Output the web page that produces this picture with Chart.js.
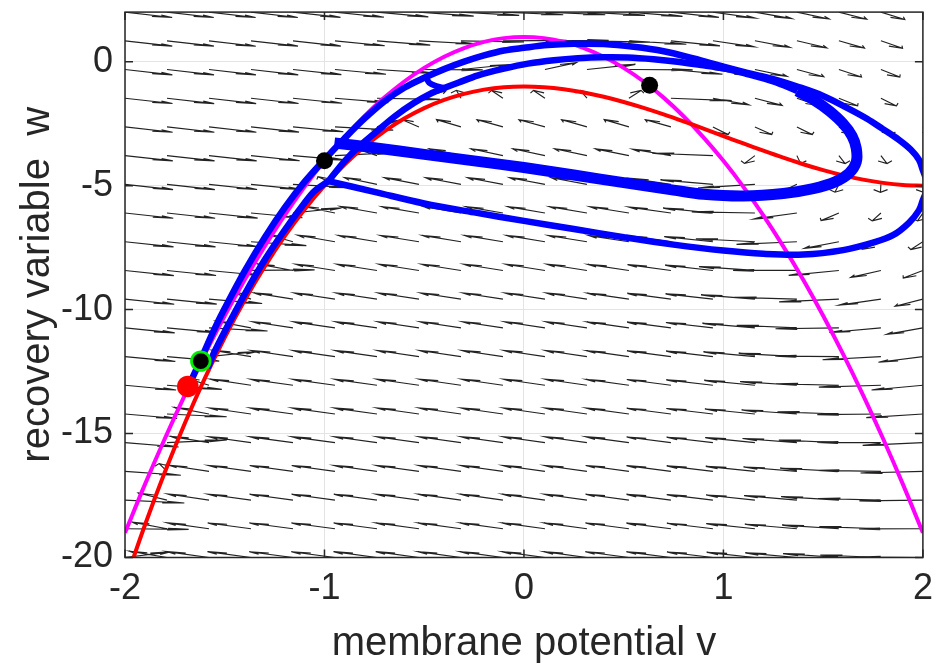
<!DOCTYPE html>
<html><head><meta charset="utf-8">
<script src="https://cdn.jsdelivr.net/npm/chart.js@4.4.1/dist/chart.umd.min.js"></script>
<style>html,body{margin:0;padding:0;background:#fff;}canvas{display:block;}</style>
</head><body>
<canvas id="c" width="935" height="668" style="width:935px;height:668px"></canvas>
<script>
// ---------- axes ----------
const xTicks = [-2, -1, 0, 1, 2];
const yTicks = [-20, -15, -10, -5, 0];
const xLabel = 'membrane potential v';
const yLabel = 'recovery variable  w';

// ---------- nullclines ----------
const curveV = [-2.0,-1.9,-1.8,-1.7,-1.6,-1.5,-1.4,-1.3,-1.2,-1.1,-1.0,-0.9,-0.8,-0.7,-0.6,-0.5,-0.4,-0.3,-0.2,-0.1,0.0,
  0.1,0.2,0.3,0.4,0.5,0.6,0.7,0.8,0.9,1.0,1.1,1.2,1.3,1.4,1.5,1.6,1.7,1.8,1.9,2.0];
const redNullW = [-21,-18.689,-16.552,-14.583,-12.776,-11.125,-9.624,-8.267,-7.048,-5.961,
  -5,-4.159,-3.432,-2.813,-2.296,-1.875,-1.544,-1.297,-1.128,-1.031,-1,
  -1.029,-1.112,-1.243,-1.416,-1.625,-1.864,-2.127,-2.408,-2.701,-3,
  -3.299,-3.592,-3.873,-4.136,-4.375,-4.584,-4.757,-4.888,-4.971,-5];
const magNullW = [-19,-17.05,-15.2,-13.45,-11.8,-10.25,-8.8,-7.45,-6.2,-5.05,
  -4,-3.05,-2.2,-1.45,-0.8,-0.25,0.2,0.55,0.8,0.95,1,
  0.95,0.8,0.55,0.2,-0.25,-0.8,-1.45,-2.2,-3.05,-4,
  -5.05,-6.2,-7.45,-8.8,-10.25,-11.8,-13.45,-15.2,-17.05,-19];

// ---------- direction field grid ----------
const gridV = [-2,-1.7895,-1.5789,-1.3684,-1.1579,-0.9474,-0.7368,-0.5263,-0.3158,-0.1053,
  0.1053,0.3158,0.5263,0.7368,0.9474,1.1579,1.3684,1.5789,1.7895,2];
const gridW = [-20,-18.8421,-17.6842,-16.5263,-15.3684,-14.2105,-13.0526,-11.8947,-10.7368,-9.5789,
  -8.4211,-7.2632,-6.1053,-4.9474,-3.7895,-2.6316,-1.4737,-0.3158,0.8421,2];
const redAtGrid = [-21,-16.338,-12.416,-9.180,-6.575,-4.543,-3.029,-1.977,-1.331,-1.034,
  -1.032,-1.268,-1.685,-2.229,-2.842,-3.470,-4.055,-4.543,-4.876,-5];
const magAtGrid = [-19,-15.012,-11.465,-8.363,-5.704,-3.488,-1.715,-0.385,0.501,0.945,
  0.945,0.501,-0.385,-1.715,-3.488,-5.704,-8.363,-11.465,-15.012,-19];

// ---------- trajectory pieces ----------
const outerV = [-1.665,-1.62,-1.6,-1.55,-1.5,-1.4,-1.3,-1.2,-1.1,-1.0,-0.9,-0.8,-0.7,-0.6,-0.5,-0.4,-0.3,-0.2,-0.1,0.0,
  0.12,0.25,0.4,0.55,0.7,0.85,1.0,1.12,1.25,1.37,1.5,1.62,1.72,1.8,1.88,1.94,1.98,2.0,2.02,2.03,2.02,2.0,
  1.98,1.93,1.85,1.75,1.6,1.4,1.2,1.0,0.75,0.5,0.25,0.0,-0.25,-0.5,-0.75,-0.98];
const outerW = [-12.8,-12.02,-11.65,-10.76,-9.95,-8.45,-7.1,-5.9,-4.85,-3.95,-3.1,-2.3,-1.6,-1.05,-0.65,-0.3,0.0,0.25,0.45,0.56,
  0.67,0.72,0.71,0.6,0.42,0.13,-0.2,-0.45,-0.7,-1.0,-1.38,-1.86,-2.3,-2.72,-3.15,-3.55,-3.95,-4.38,-4.8,-5.0,-5.2,-5.58,
  -6.0,-6.5,-7.0,-7.3,-7.6,-7.78,-7.75,-7.62,-7.38,-7.08,-6.75,-6.42,-6.08,-5.72,-5.25,-4.82];
const innerLowV = [-0.98,-1.05,-1.1,-1.2,-1.3,-1.4,-1.5,-1.55,-1.585];
const innerLowW = [-4.82,-5.22,-5.7,-6.8,-8.0,-9.38,-10.88,-11.68,-12.35];
const innerUpV = [-0.98,-0.9,-0.83,-0.75,-0.65,-0.55,-0.47,-0.4,-0.33,-0.23,-0.1,0.02,0.15,0.27,0.4,0.52,0.65,0.77,0.9,1.02,1.12,1.25,1.37];
const innerUpW = [-4.82,-4.02,-3.45,-2.9,-2.22,-1.66,-1.3,-1.06,-0.85,-0.55,-0.28,-0.08,0.06,0.14,0.18,0.17,0.1,0.0,-0.15,-0.3,-0.5,-0.8,-1.18];
const loopV = [1.37,1.46,1.53,1.6,1.645,1.666,1.666,1.63,1.56,1.45,1.3,1.1,0.9,0.75,0.5,0.25,0.0,-0.25,-0.5,-0.75,-0.95];
const loopW = [-1.18,-1.58,-1.98,-2.5,-3.0,-3.5,-4.05,-4.5,-4.85,-5.12,-5.32,-5.42,-5.35,-5.18,-4.88,-4.57,-4.27,-4.0,-3.74,-3.47,-3.28];
const hookV = [-0.49,-0.475,-0.44,-0.4];
const hookW = [-0.62,-0.85,-0.98,-1.06];

// ---------- marked points ----------
const blackDotV = [-1.0, 0.63];
const blackDotW = [-4.0, -0.95];
const startDotV = [-1.62];
const startDotW = [-12.08];
const redDotV = [-1.685];
const redDotW = [-13.1];

const pts = (vs, ws) => vs.map((v, i) => ({x: v, y: ws[i]}));

const BLUE = '#0000ff';
const lineDs = (vs, ws, color, width, order) => ({
  type: 'scatter', showLine: true, data: pts(vs, ws), borderColor: color, backgroundColor: color,
  borderWidth: width, pointRadius: 0, tension: 0.35, clip: 0, order: order,
  borderJoinStyle: 'round', borderCapStyle: 'butt'
});
const dotDs = (vs, ws, fill, stroke, r, bw, order) => ({
  type: 'scatter', showLine: false, data: pts(vs, ws), pointRadius: r, pointBackgroundColor: fill,
  pointBorderColor: stroke, pointBorderWidth: bw, clip: false, order: order
});

const ARROW_SCALE = 0.32, HEAD_A = 0.33, HEAD_B = 0.33;

const fieldAndFrame = {
  id: 'fieldAndFrame',
  beforeDatasetsDraw(chart) {
    const {ctx, chartArea: a, scales: {x, y}} = chart;
    ctx.save();
    ctx.beginPath(); ctx.rect(a.left, a.top, a.right - a.left, a.bottom - a.top); ctx.clip();
    ctx.strokeStyle = '#222222'; ctx.lineWidth = 1.15;
    ctx.beginPath();
    for (let i = 0; i < gridV.length; i++) {
      for (let j = 0; j < gridW.length; j++) {
        const v = gridV[i], w = gridW[j];
        let du = w - redAtGrid[i];
        let dw = magAtGrid[i] - w;
        const n = Math.hypot(du, dw) || 1;
        du = du / n * ARROW_SCALE; dw = dw / n * ARROW_SCALE;
        const tv = v + du, tw = w + dw;
        const h1v = tv - HEAD_A * (du + HEAD_B * dw), h1w = tw - HEAD_A * (dw - HEAD_B * du);
        const h2v = tv - HEAD_A * (du - HEAD_B * dw), h2w = tw - HEAD_A * (dw + HEAD_B * du);
        ctx.moveTo(x.getPixelForValue(v), y.getPixelForValue(w));
        ctx.lineTo(x.getPixelForValue(tv), y.getPixelForValue(tw));
        ctx.moveTo(x.getPixelForValue(h1v), y.getPixelForValue(h1w));
        ctx.lineTo(x.getPixelForValue(tv), y.getPixelForValue(tw));
        ctx.lineTo(x.getPixelForValue(h2v), y.getPixelForValue(h2w));
      }
    }
    ctx.stroke();
    ctx.restore();
  },
  afterDatasetsDraw(chart) {
    const {ctx, chartArea: a, scales: {x, y}} = chart;
    ctx.save();
    ctx.strokeStyle = '#262626'; ctx.lineWidth = 1.5;
    ctx.strokeRect(a.left, a.top, a.right - a.left, a.bottom - a.top);
    ctx.beginPath();
    const tl = 8;
    xTicks.forEach(t => {
      const px = x.getPixelForValue(t);
      ctx.moveTo(px, a.bottom); ctx.lineTo(px, a.bottom - tl);
      ctx.moveTo(px, a.top); ctx.lineTo(px, a.top + tl);
    });
    yTicks.forEach(t => {
      const py = y.getPixelForValue(t);
      ctx.moveTo(a.left, py); ctx.lineTo(a.left + tl, py);
      ctx.moveTo(a.right, py); ctx.lineTo(a.right - tl, py);
    });
    ctx.stroke();
    ctx.restore();
  }
};

const FONT = 'Liberation Sans, Arial, Helvetica, sans-serif';
new Chart(document.getElementById('c'), {
  type: 'scatter',
  data: {
    datasets: [
      dotDs(redDotV, redDotW, '#ff0000', '#ff0000', 10.8, 0, 0),
      dotDs(startDotV, startDotW, '#000000', '#00ee00', 9.3, 2.8, 1),
      dotDs(blackDotV, blackDotW, '#000000', '#000000', 8.5, 0, 2),
      lineDs(hookV, hookW, BLUE, 6, 3),
      lineDs(loopV, loopW, BLUE, 11, 4),
      lineDs(innerUpV, innerUpW, BLUE, 6.5, 5),
      lineDs(innerLowV, innerLowW, BLUE, 6.5, 6),
      lineDs(outerV, outerW, BLUE, 6.5, 7),
      lineDs(curveV, redNullW, '#ff0000', 4, 8),
      lineDs(curveV, magNullW, '#ff00ff', 4, 9)
    ]
  },
  options: {
    responsive: false, animation: false, devicePixelRatio: 1, events: [],
    layout: {padding: {top: 7, right: 8, left: 0, bottom: 0}},
    plugins: {legend: {display: false}, tooltip: {enabled: false}},
    scales: {
      x: {
        type: 'linear', min: -2, max: 2,
        afterBuildTicks: s => { s.ticks = xTicks.map(v => ({value: v})); },
        afterFit: s => { s.height = 110.5; s.paddingLeft = 0; s.paddingRight = 0; },
        grid: {color: '#e4e4e4', lineWidth: 1, drawTicks: false},
        border: {display: false},
        ticks: {font: {family: FONT, size: 36}, color: '#262626', padding: 10, maxRotation: 0, callback: v => String(v)},
        title: {display: true, text: xLabel, font: {family: FONT, size: 40}, color: '#262626', padding: {top: 0, bottom: 0}}
      },
      y: {
        type: 'linear', min: -20, max: 2,
        afterBuildTicks: s => { s.ticks = yTicks.map(v => ({value: v})); },
        afterFit: s => { s.width = 125; s.paddingTop = 0; s.paddingBottom = 0; },
        grid: {color: '#e4e4e4', lineWidth: 1, drawTicks: false},
        border: {display: false},
        ticks: {font: {family: FONT, size: 36}, color: '#262626', padding: 12, callback: v => String(v)},
        title: {display: true, text: yLabel, font: {family: FONT, size: 40}, color: '#262626', padding: {top: 14, bottom: 0}}
      }
    }
  },
  plugins: [fieldAndFrame]
});
</script>
</body></html>
